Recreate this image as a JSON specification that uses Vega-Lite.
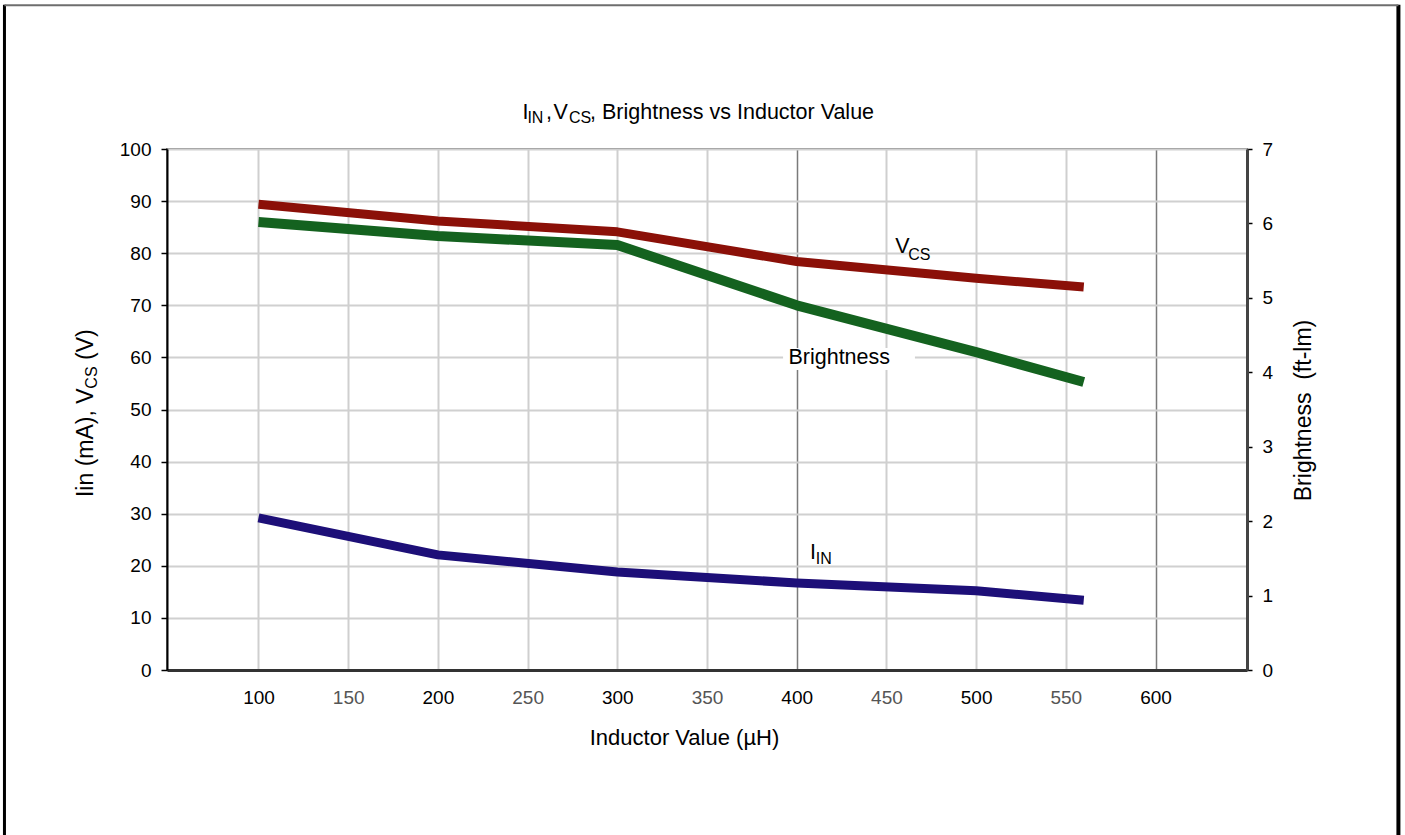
{
  "$schema": "https://vega.github.io/schema/vega-lite/v6.json",
  "width": 1080,
  "height": 521,
  "autosize": "none",
  "padding": {"left": 167, "top": 149, "right": 158, "bottom": 165},
  "background": "white",
  "config": {
    "font": "Liberation Sans",
    "view": {"stroke": "#808080", "strokeWidth": 2},
    "axis": {
      "labelFont": "Liberation Sans",
      "titleFont": "Liberation Sans",
      "labelColor": "black",
      "titleColor": "black",
      "titleFontWeight": "normal",
      "labelFontSize": 19,
      "titleFontSize": 22
    }
  },
  "datasets": {
    "series": [
      {"inductance": 100, "vcs": 89.4, "iin": 29.2, "brightness": 6.02},
      {"inductance": 200, "vcs": 86.2, "iin": 22.1, "brightness": 5.83},
      {"inductance": 300, "vcs": 84.1, "iin": 18.8, "brightness": 5.71},
      {"inductance": 400, "vcs": 78.4, "iin": 16.7, "brightness": 4.9},
      {"inductance": 500, "vcs": 75.2, "iin": 15.2, "brightness": 4.27},
      {"inductance": 560, "vcs": 73.5, "iin": 13.4, "brightness": 3.87}
    ],
    "notes": [
      {"text": "I", "x": 247.2, "y": 105.7},
      {"text": ",", "x": 260.3, "y": 105.7},
      {"text": "V", "x": 264.4, "y": 105.7},
      {"text": ", Brightness vs Inductor Value", "x": 284.8, "y": 105.7},
      {"text": "V", "x": 455.0, "y": 80.0},
      {"text": "Brightness", "x": 395.4, "y": 58.7},
      {"text": "I", "x": 407.4, "y": 21.4}
    ],
    "subs": [
      {"text": "IN", "x": 249.9, "y": 104.9},
      {"text": "CS", "x": 273.1, "y": 104.9},
      {"text": "CS", "x": 462.2, "y": 78.7},
      {"text": "IN", "x": 410.6, "y": 20.3}
    ],
    "ytitle": [
      {"text": "Iin (mA), V", "x": 7.75, "y": 33.2},
      {"text": "(V)", "x": 7.75, "y": 59.5}
    ],
    "ytitlesub": [
      {"text": "CS", "x": 10.0, "y": 54.0}
    ],
    "one": [{}]
  },
  "layer": [
    {
      "layer": [
        {
          "data": {"name": "one"},
          "mark": {"type": "rule", "color": "black", "strokeWidth": 3},
          "encoding": {
            "x": {"datum": -41.6, "type": "quantitative", "scale": {"domain": [49, 651], "nice": false, "zero": false}},
            "y": {"datum": 127.7, "type": "quantitative", "scale": {"domain": [0, 100], "nice": false, "zero": false}},
            "y2": {"datum": -40}
          }
        },
        {
          "data": {"name": "one"},
          "mark": {"type": "rule", "color": "black", "strokeWidth": 4},
          "encoding": {
            "x": {"datum": 735.4, "type": "quantitative", "scale": {"domain": [49, 651], "nice": false, "zero": false}},
            "y": {"datum": 127.7, "type": "quantitative", "scale": {"domain": [0, 100], "nice": false, "zero": false}},
            "y2": {"datum": -40}
          }
        },
        {
          "data": {"name": "one"},
          "mark": {"type": "rule", "color": "#6e6e6e", "strokeWidth": 2},
          "encoding": {
            "x": {"datum": -41.6, "type": "quantitative", "scale": {"domain": [49, 651], "nice": false, "zero": false}},
            "x2": {"datum": 735.4},
            "y": {"datum": 127.6, "type": "quantitative", "scale": {"domain": [0, 100], "nice": false, "zero": false}}
          }
        },
        {
          "data": {"name": "one"},
          "mark": {"type": "rect", "color": "white"},
          "encoding": {
            "x": {"datum": 392.4, "type": "quantitative", "scale": {"domain": [49, 651], "nice": false, "zero": false}},
            "x2": {"datum": 465.9},
            "y": {"datum": 61.8, "type": "quantitative", "scale": {"domain": [0, 100], "nice": false, "zero": false}},
            "y2": {"datum": 57.6}
          }
        },
        {
          "data": {"name": "series"},
          "mark": {"type": "line", "color": "#8b1008", "strokeWidth": 9, "strokeCap": "butt", "strokeJoin": "round"},
          "encoding": {
            "x": {
              "field": "inductance", "type": "quantitative",
              "scale": {"domain": [49, 651], "nice": false, "zero": false},
              "axis": {
                "values": [100, 150, 200, 250, 300, 350, 400, 450, 500, 550, 600],
                "grid": true,
                "gridColor": {"condition": {"test": "datum.value === 400 || datum.value === 600", "value": "#7a7a7a"}, "value": "#cfcfcf"},
                "gridWidth": {"condition": {"test": "datum.value === 400 || datum.value === 600", "value": 1.5}, "value": 2},
                "ticks": false,
                "tickSize": 0,
                "labelPadding": 27,
                "labelBaseline": "middle",
                "labelFontSize": 19,
                "labelColor": {"condition": {"test": "datum.value % 100 === 0", "value": "black"}, "value": "#555555"},
                "domainColor": "#333333",
                "domainWidth": 3,
                "title": "Inductor Value (µH)",
                "titleFontSize": 22,
                "titleX": 517,
                "titleY": 74,
                "titleAlign": "center",
                "titleBaseline": "alphabetic"
              }
            },
            "y": {
              "field": "vcs", "type": "quantitative",
              "scale": {"domain": [0, 100], "nice": false, "zero": false},
              "axis": {
                "values": [0, 10, 20, 30, 40, 50, 60, 70, 80, 90, 100],
                "grid": true,
                "gridColor": "#d0d0d0",
                "gridWidth": 2,
                "tickSize": 6,
                "tickColor": "black",
                "tickWidth": 1.5,
                "labelPadding": 10,
                "labelFontSize": 19,
                "domainColor": "black",
                "domainWidth": 2,
                "title": null
              }
            }
          }
        },
        {
          "data": {"name": "series"},
          "mark": {"type": "line", "color": "#1d0f78", "strokeWidth": 9, "strokeCap": "butt", "strokeJoin": "round"},
          "encoding": {
            "x": {"field": "inductance", "type": "quantitative", "scale": {"domain": [49, 651], "nice": false, "zero": false}},
            "y": {"field": "iin", "type": "quantitative", "scale": {"domain": [0, 100], "nice": false, "zero": false}}
          }
        },
        {
          "data": {"name": "notes"},
          "mark": {"type": "text", "fontSize": 21.5, "align": "left", "baseline": "alphabetic", "color": "black", "font": "Liberation Sans"},
          "encoding": {
            "x": {"field": "x", "type": "quantitative", "scale": {"domain": [49, 651], "nice": false, "zero": false}},
            "y": {"field": "y", "type": "quantitative", "scale": {"domain": [0, 100], "nice": false, "zero": false}},
            "text": {"field": "text"}
          }
        },
        {
          "data": {"name": "subs"},
          "mark": {"type": "text", "fontSize": 16, "align": "left", "baseline": "alphabetic", "color": "black", "font": "Liberation Sans"},
          "encoding": {
            "x": {"field": "x", "type": "quantitative", "scale": {"domain": [49, 651], "nice": false, "zero": false}},
            "y": {"field": "y", "type": "quantitative", "scale": {"domain": [0, 100], "nice": false, "zero": false}},
            "text": {"field": "text"}
          }
        },
        {
          "data": {"name": "ytitle"},
          "mark": {"type": "text", "fontSize": 23, "angle": 270, "align": "left", "baseline": "alphabetic", "color": "black", "font": "Liberation Sans"},
          "encoding": {
            "x": {"field": "x", "type": "quantitative", "scale": {"domain": [49, 651], "nice": false, "zero": false}},
            "y": {"field": "y", "type": "quantitative", "scale": {"domain": [0, 100], "nice": false, "zero": false}},
            "text": {"field": "text"}
          }
        },
        {
          "data": {"name": "ytitlesub"},
          "mark": {"type": "text", "fontSize": 16, "angle": 270, "align": "left", "baseline": "alphabetic", "color": "black", "font": "Liberation Sans"},
          "encoding": {
            "x": {"field": "x", "type": "quantitative", "scale": {"domain": [49, 651], "nice": false, "zero": false}},
            "y": {"field": "y", "type": "quantitative", "scale": {"domain": [0, 100], "nice": false, "zero": false}},
            "text": {"field": "text"}
          }
        }
      ]
    },
    {
      "data": {"name": "series"},
      "mark": {"type": "line", "color": "#14621f", "strokeWidth": 10, "strokeCap": "butt", "strokeJoin": "round"},
      "encoding": {
        "x": {"field": "inductance", "type": "quantitative", "scale": {"domain": [49, 651], "nice": false, "zero": false}},
        "y": {
          "field": "brightness", "type": "quantitative",
          "scale": {"domain": [0, 7], "nice": false, "zero": false},
          "axis": {
            "orient": "right",
            "values": [0, 1, 2, 3, 4, 5, 6, 7],
            "grid": false,
            "tickSize": 5,
            "tickColor": "black",
            "tickWidth": 1.5,
            "labelPadding": 10,
            "labelFontSize": 19,
            "domainColor": "#444444",
            "domainWidth": 3,
            "title": "Brightness\u00a0 (ft-lm)",
            "titleFontSize": 23,
            "titleAngle": 270,
            "titleX": 63,
            "titleY": 261,
            "titleAlign": "center",
            "titleBaseline": "alphabetic"
          }
        }
      }
    }
  ],
  "resolve": {"scale": {"y": "independent"}, "axis": {"y": "independent"}}
}
